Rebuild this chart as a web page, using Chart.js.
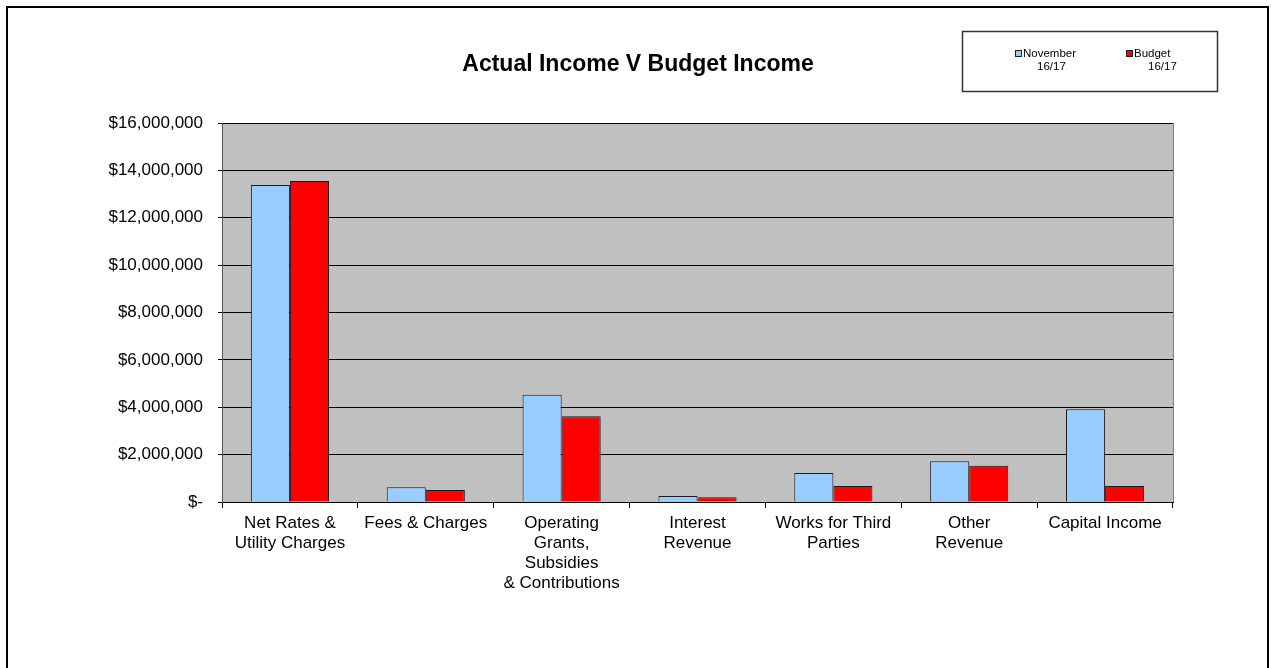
<!DOCTYPE html>
<html>
<head>
<meta charset="utf-8">
<title>Actual Income V Budget Income</title>
<script src="https://cdn.jsdelivr.net/npm/chart.js@4"></script>
<style>
    body { margin: 0; background: #fff; }
    #wrap { position: relative; width: 1271px; height: 668px; overflow: hidden; }
    #frame {
        position: absolute; left: 6px; top: 6px; width: 1259px; height: 700px;
        border-left: 2px solid #000; border-top: 2px solid #000; border-right: 2px solid #000;
    }
    canvas { position: absolute; left: 0; top: 0; }
</style>
</head>
<body>
<div id="wrap">
    <canvas id="income-chart" width="1271" height="668"></canvas>
    <div id="frame"></div>
</div>
<script>
// 차트 데이터
const categories = [
    ["Net Rates &", "Utility Charges"],
    "Fees & Charges",
    ["Operating", "Grants,", "Subsidies", "& Contributions"],
    ["Interest", "Revenue"],
    ["Works for Third", "Parties"],
    ["Other", "Revenue"],
    "Capital Income"
];
const novemberActual = [13380000, 620000, 4530000, 250000, 1220000, 1720000, 3920000];
const budget = [13550000, 510000, 3620000, 200000, 680000, 1530000, 680000];
const seriesNames = [["November", "16/17"], ["Budget", "16/17"]];
const seriesColors = ["#99CCFF", "#FF0000"];
const chartTitle = "Actual Income V Budget Income";
const yMax = 16000000;
const yStep = 2000000;

const fontFamily = "'Liberation Sans', Arial, sans-serif";

function formatDollar(v) {
    if (v === 0) return "$-";
    return "$" + String(v).replace(/\B(?=(\d{3})+(?!\d))/g, ",");
}

// 회색 배경 + 제목 + 범례 박스
const decorPlugin = {
    id: "decor",
    beforeDraw(chart) {
        const { ctx, chartArea } = chart;
        ctx.save();
        ctx.fillStyle = "#C0C0C0";
        ctx.fillRect(chartArea.left, chartArea.top, chartArea.right - chartArea.left, chartArea.bottom - chartArea.top);
        ctx.strokeStyle = "#808080";
        ctx.lineWidth = 1;
        ctx.beginPath();
        ctx.moveTo(chartArea.right + 0.5, chartArea.top);
        ctx.lineTo(chartArea.right + 0.5, chartArea.bottom);
        ctx.stroke();
        ctx.restore();
    },
    afterDraw(chart) {
        const ctx = chart.ctx;
        ctx.save();
        // 제목
        ctx.fillStyle = "#000";
        ctx.font = "bold 23px " + fontFamily;
        ctx.textAlign = "center";
        ctx.textBaseline = "middle";
        ctx.fillText(chartTitle, 638, 65);

        // 범례
        ctx.strokeStyle = "#333";
        ctx.lineWidth = 1.5;
        ctx.strokeRect(962.5, 31.5, 255, 60);
        ctx.font = "11.5px " + fontFamily;
        ctx.textAlign = "left";
        const xs = [1015, 1126];
        chart.data.datasets.forEach((ds, i) => {
            const x = xs[i];
            ctx.fillStyle = ds.backgroundColor;
            ctx.fillRect(x, 50, 7, 7);
            ctx.strokeStyle = "#222";
            ctx.lineWidth = 1;
            ctx.strokeRect(x + 0.5, 50.5, 6, 6);
            ctx.fillStyle = "#000";
            ctx.fillText(seriesNames[i][0], x + 8, 54);
            ctx.fillText(seriesNames[i][1], x + 22, 67);
        });
        ctx.restore();
    }
};

const chart = new Chart(document.getElementById("income-chart").getContext("2d"), {
    type: "bar",
    data: {
        labels: categories,
        datasets: [
            {
                label: seriesNames[0].join(" "),
                data: novemberActual,
                backgroundColor: seriesColors[0],
                borderColor: "#1a1a1a",
                borderWidth: 1
            },
            {
                label: seriesNames[1].join(" "),
                data: budget,
                backgroundColor: seriesColors[1],
                borderColor: "#1a1a1a",
                borderWidth: 1
            }
        ]
    },
    options: {
        responsive: false,
        devicePixelRatio: 1,
        animation: false,
        categoryPercentage: 0.575,
        barPercentage: 1.0,
        layout: { padding: { left: 10, right: 98, top: 123, bottom: 0 } },
        plugins: {
            legend: { display: false },
            title: { display: false },
            tooltip: { enabled: false }
        },
        scales: {
            x: {
                offset: true,
                grid: {
                    offset: true,
                    drawOnChartArea: false,
                    drawTicks: true,
                    tickLength: 6,
                    color: "#000"
                },
                border: { display: true, color: "#000" },
                ticks: {
                    color: "#000",
                    font: { family: fontFamily, size: 17, lineHeight: 1.18 },
                    padding: 5,
                    maxRotation: 0,
                    autoSkip: false
                },
                afterFit(scale) { scale.height = 166; }
            },
            y: {
                min: 0,
                max: yMax,
                grid: {
                    color: "#000",
                    lineWidth: 1,
                    drawTicks: true,
                    tickLength: 4
                },
                border: { display: true, color: "#555" },
                ticks: {
                    stepSize: yStep,
                    color: "#000",
                    font: { family: fontFamily, size: 17 },
                    padding: 15,
                    callback: (v) => formatDollar(v)
                },
                afterFit(scale) { scale.width = 212; }
            }
        }
    },
    plugins: [decorPlugin]
});
</script>
</body>
</html>
